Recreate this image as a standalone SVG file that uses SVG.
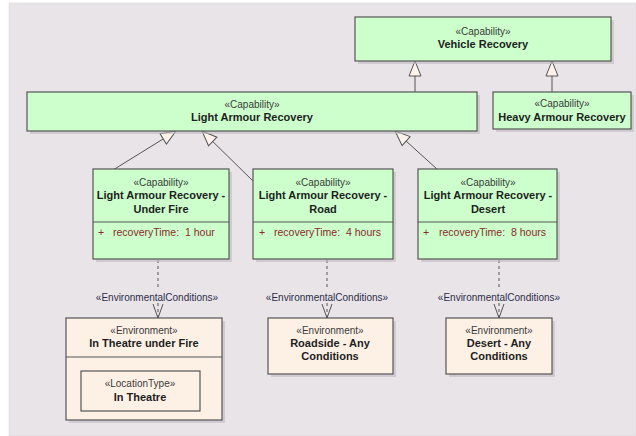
<svg xmlns="http://www.w3.org/2000/svg" width="636" height="436" viewBox="0 0 636 436">
<style>
text{font-family:"Liberation Sans",Arial,sans-serif;text-anchor:middle}
.st{font-size:10px;fill:#3a3a3a}
.nm{font-size:11px;font-weight:bold;fill:#1e1e1e}
.at{font-size:10.5px;fill:#8b2a2a;text-anchor:start;white-space:pre}
.lb{font-size:10px;fill:#2e2e4a}
.cap{fill:#ccffcc;stroke:#555;stroke-width:1.2}
.env{fill:#fdf1e6;stroke:#555;stroke-width:1.2}
.sh{fill:#bfbbc0;opacity:0.6}
.gen{stroke:#555;stroke-width:1;fill:none}
.dep{stroke:#555;stroke-width:1;fill:none;stroke-dasharray:3,3}
</style>
<defs>
<marker id="tri" markerUnits="userSpaceOnUse" markerWidth="18" markerHeight="14" viewBox="0 0 18 14" refX="16" refY="7" orient="auto">
<path d="M1,1 L16,7 L1,13 Z" fill="#fdf3ea" stroke="#555" stroke-width="1"/>
</marker>
<marker id="open" markerUnits="userSpaceOnUse" markerWidth="16" markerHeight="12" viewBox="0 0 16 12" refX="15" refY="6" orient="auto">
<path d="M1,1 L15,6 L1,11" fill="none" stroke="#555" stroke-width="1"/>
</marker>
</defs>
<rect x="0" y="0" width="636" height="436" fill="#ffffff"/>
<rect x="9" y="3" width="627" height="433" fill="#e8e4e8" stroke="#d6d2d6" stroke-width="0.5"/>

<g id="connectors">
<line class="gen" x1="415" y1="92" x2="415" y2="61" marker-end="url(#tri)"/>
<line class="gen" x1="552" y1="92" x2="552" y2="61" marker-end="url(#tri)"/>
<line class="gen" x1="113" y1="170" x2="176" y2="131" marker-end="url(#tri)"/>
<line class="gen" x1="253" y1="181" x2="202" y2="131" marker-end="url(#tri)"/>
<line class="gen" x1="438" y1="170" x2="395" y2="131" marker-end="url(#tri)"/>
<line class="dep" x1="158" y1="260" x2="158" y2="289"/>
<line class="dep" x1="158" y1="303" x2="158" y2="318" marker-end="url(#open)"/>
<line class="dep" x1="327" y1="260" x2="327" y2="289"/>
<line class="dep" x1="327" y1="303" x2="327" y2="318" marker-end="url(#open)"/>
<line class="dep" x1="499" y1="260" x2="499" y2="289"/>
<line class="dep" x1="499" y1="303" x2="499" y2="318" marker-end="url(#open)"/>
<text class="lb" x="157" y="301">«EnvironmentalConditions»</text>
<text class="lb" x="327" y="301">«EnvironmentalConditions»</text>
<text class="lb" x="499" y="301">«EnvironmentalConditions»</text>
</g>

<g id="vehicle-recovery">
<rect class="sh" x="358" y="20" width="256" height="44"/>
<rect class="cap" x="355" y="17" width="256" height="44"/>
<text class="st" x="483" y="35">«Capability»</text>
<text class="nm" x="483" y="48">Vehicle Recovery</text>
</g>

<g id="heavy-armour-recovery">
<rect class="sh" x="496" y="95" width="138" height="37"/>
<rect class="cap" x="493" y="92" width="138" height="37"/>
<text class="st" x="562" y="107">«Capability»</text>
<text class="nm" x="562" y="121">Heavy Armour Recovery</text>
</g>

<g id="light-armour-recovery">
<rect class="sh" x="30" y="95" width="450" height="39"/>
<rect class="cap" x="27" y="92" width="450" height="39"/>
<text class="st" x="252" y="108">«Capability»</text>
<text class="nm" x="252" y="121">Light Armour Recovery</text>
</g>

<g id="lar-under-fire">
<rect class="sh" x="96" y="172" width="136" height="90"/>
<rect class="cap" x="93" y="169" width="136" height="90"/>
<line x1="93" y1="222" x2="229" y2="222" stroke="#555" stroke-width="1"/>
<text class="st" x="161" y="186">«Capability»</text>
<text class="nm" x="161" y="199">Light Armour Recovery -</text>
<text class="nm" x="161" y="213">Under Fire</text>
<text class="at" x="98" y="236">+</text>
<text class="at" x="113" y="236">recoveryTime:  1 hour</text>
</g>

<g id="lar-road">
<rect class="sh" x="256" y="172" width="140" height="90"/>
<rect class="cap" x="253" y="169" width="140" height="90"/>
<line x1="253" y1="222" x2="393" y2="222" stroke="#555" stroke-width="1"/>
<text class="st" x="323" y="186">«Capability»</text>
<text class="nm" x="323" y="199">Light Armour Recovery -</text>
<text class="nm" x="323" y="213">Road</text>
<text class="at" x="259" y="236">+</text>
<text class="at" x="274" y="236">recoveryTime:  4 hours</text>
</g>

<g id="lar-desert">
<rect class="sh" x="421" y="172" width="139" height="90"/>
<rect class="cap" x="418" y="169" width="139" height="90"/>
<line x1="418" y1="222" x2="557" y2="222" stroke="#555" stroke-width="1"/>
<text class="st" x="488" y="186">«Capability»</text>
<text class="nm" x="488" y="199">Light Armour Recovery -</text>
<text class="nm" x="488" y="213">Desert</text>
<text class="at" x="423" y="236">+</text>
<text class="at" x="439" y="236">recoveryTime:  8 hours</text>
</g>

<g id="in-theatre-under-fire">
<rect class="sh" x="69" y="321" width="156" height="102"/>
<rect class="env" x="66" y="318" width="156" height="102"/>
<line x1="66" y1="357" x2="222" y2="357" stroke="#555" stroke-width="1"/>
<text class="st" x="144" y="334">«Environment»</text>
<text class="nm" x="144" y="347">In Theatre under Fire</text>
<rect x="81" y="371" width="119" height="40" fill="none" stroke="#555" stroke-width="1.2"/>
<text class="st" x="140" y="387">«LocationType»</text>
<text class="nm" x="140" y="401">In Theatre</text>
</g>

<g id="roadside-any-conditions">
<rect class="sh" x="271" y="321" width="125" height="56"/>
<rect class="env" x="268" y="318" width="125" height="56"/>
<text class="st" x="330" y="334">«Environment»</text>
<text class="nm" x="330" y="347">Roadside - Any</text>
<text class="nm" x="330" y="360">Conditions</text>
</g>

<g id="desert-any-conditions">
<rect class="sh" x="449" y="321" width="106" height="56"/>
<rect class="env" x="446" y="318" width="106" height="56"/>
<text class="st" x="499" y="334">«Environment»</text>
<text class="nm" x="499" y="347">Desert - Any</text>
<text class="nm" x="499" y="360">Conditions</text>
</g>
</svg>
